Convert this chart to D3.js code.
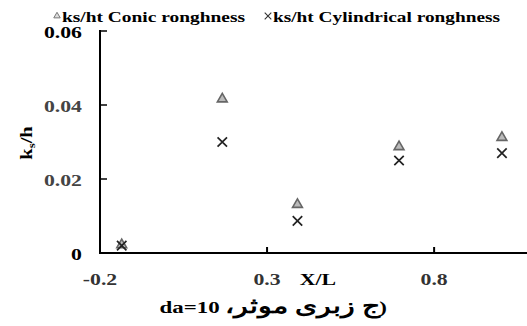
<!DOCTYPE html>
<head>
    <script src="https://d3js.org/d3.v7.min.js"></script>
    <style>
        body { margin: 0; background: #fff; }
        text { font-family: "Liberation Serif", "Times New Roman", serif; font-weight: bold; }
    </style>
</head>
<body>
    <div id="chart"></div>
<script>
    // data
    const xPos = [-0.135, 0.166, 0.391, 0.695, 1.003];
    const conic = [0.0022, 0.0416, 0.0131, 0.0287, 0.0312];
    const cylindrical = [0.0020, 0.0300, 0.0087, 0.0250, 0.0270];
    const xTicks = [-0.2, 0.3, 0.8];
    const yTicks = [0, 0.02, 0.04, 0.06];

    const width = 527, height = 326;
    const mLeft = 100, mRight = 527, mTop = 31, mBottom = 253;
    const sx = 1.28; // the original text is stretched sideways

    const svg = d3.select("#chart").append("svg")
        .attr("width", width).attr("height", height);

    const x = d3.scaleLinear().domain([-0.2, 1.078]).range([mLeft, mRight]);
    const y = d3.scaleLinear().domain([0, 0.06]).range([mBottom, mTop]);

    // axes lines
    svg.append("line").attr("x1", mLeft).attr("x2", mLeft).attr("y1", mTop - 1).attr("y2", mBottom + 1)
        .attr("stroke", "#000").attr("stroke-width", 2);
    svg.append("line").attr("x1", mLeft - 1).attr("x2", mRight).attr("y1", mBottom).attr("y2", mBottom)
        .attr("stroke", "#000").attr("stroke-width", 2);

    // y ticks (inward)
    svg.selectAll("line.yt").data(yTicks.filter(d => d > 0)).join("line")
        .attr("x1", mLeft).attr("x2", mLeft + 7)
        .attr("y1", d => y(d)).attr("y2", d => y(d))
        .attr("stroke", "#000").attr("stroke-width", 1.5);
    svg.selectAll("text.yl").data(yTicks).join("text")
        .attr("transform", d => `translate(82,${y(d) + 7}) scale(${sx},1)`)
        .attr("text-anchor", "end").attr("font-size", 17)
        .attr("fill", d => d == 0 || d == 0.06 ? "#000" : "#444")
        .text(d => d == 0 ? "0" : d.toFixed(2));

    // x ticks (inward)
    svg.selectAll("line.xt").data(xTicks.filter(d => d > -0.2)).join("line")
        .attr("x1", d => x(d)).attr("x2", d => x(d))
        .attr("y1", mBottom).attr("y2", mBottom - 6)
        .attr("stroke", "#000").attr("stroke-width", 2);
    svg.selectAll("text.xl").data(xTicks).join("text")
        .attr("transform", d => `translate(${x(d)},285) scale(${sx},1)`)
        .attr("text-anchor", "middle").attr("font-size", 17).attr("fill", "#333")
        .text(d => d.toString());

    svg.append("text").attr("transform", `translate(318,285) scale(${sx},1)`)
        .attr("text-anchor", "middle").attr("font-size", 17).text("X/L");

    svg.append("text").attr("transform", `translate(32,143) rotate(-90) scale(${sx},1)`)
        .attr("text-anchor", "middle").attr("font-size", 16)
        .call(t => {
            t.append("tspan").text("k");
            t.append("tspan").attr("font-size", 10).attr("dy", 3).text("s");
            t.append("tspan").attr("dy", -3).text("/h");
        });

    // caption, built from pieces so the bidi order is fixed
    const capRight = 387;
    const cap = svg.append("g")
        .attr("transform", `translate(${capRight},0) scale(1.35,1) translate(${-capRight},0)`);
    cap.append("text").attr("x", capRight).attr("y", 313).attr("text-anchor", "end")
        .attr("font-size", 17).attr("direction", "ltr").text(")");
    const ar = cap.append("text").attr("y", 313).attr("text-anchor", "middle")
        .attr("font-size", 21).attr("direction", "rtl").text("ج زبری موثر،");
    const arW = ar.node().getComputedTextLength();
    ar.attr("x", capRight - 5 - arW / 2);
    cap.append("text").attr("x", capRight - 5 - arW - 4).attr("y", 313).attr("text-anchor", "end")
        .attr("font-size", 17).attr("direction", "ltr").text("da=10");

    // markers
    const tri = d3.symbol().type(d3.symbolTriangle).size(42);
    svg.selectAll("path.conic").data(xPos).join("path")
        .attr("transform", (d, i) => `translate(${x(d)},${y(conic[i])})`)
        .attr("d", tri)
        .attr("fill", "#bbb").attr("stroke", "#666").attr("stroke-width", 1.6);

    const cross = d3.symbol().type(d3.symbolTimes).size(60);
    svg.selectAll("path.cyl").data(xPos).join("path")
        .attr("transform", (d, i) => `translate(${x(d)},${y(cylindrical[i])})`)
        .attr("d", cross)
        .attr("fill", "none").attr("stroke", "#222").attr("stroke-width", 1.7);

    // legend
    const lg = svg.append("g").attr("font-size", 14);
    lg.append("path").attr("transform", "translate(57,16)").attr("d", d3.symbol().type(d3.symbolTriangle).size(18))
        .attr("fill", "#ddd").attr("stroke", "#777").attr("stroke-width", 1);
    lg.append("text").attr("x", 62).attr("y", 22)
        .attr("textLength", 183).attr("lengthAdjust", "spacingAndGlyphs")
        .text("ks/ht Conic ronghness");
    lg.append("path").attr("transform", "translate(268,16)").attr("d", d3.symbol().type(d3.symbolTimes).size(30))
        .attr("fill", "none").attr("stroke", "#333").attr("stroke-width", 1.1);
    lg.append("text").attr("x", 273).attr("y", 22)
        .attr("textLength", 227).attr("lengthAdjust", "spacingAndGlyphs")
        .text("ks/ht Cylindrical ronghness");
</script>
</body>
</html>
